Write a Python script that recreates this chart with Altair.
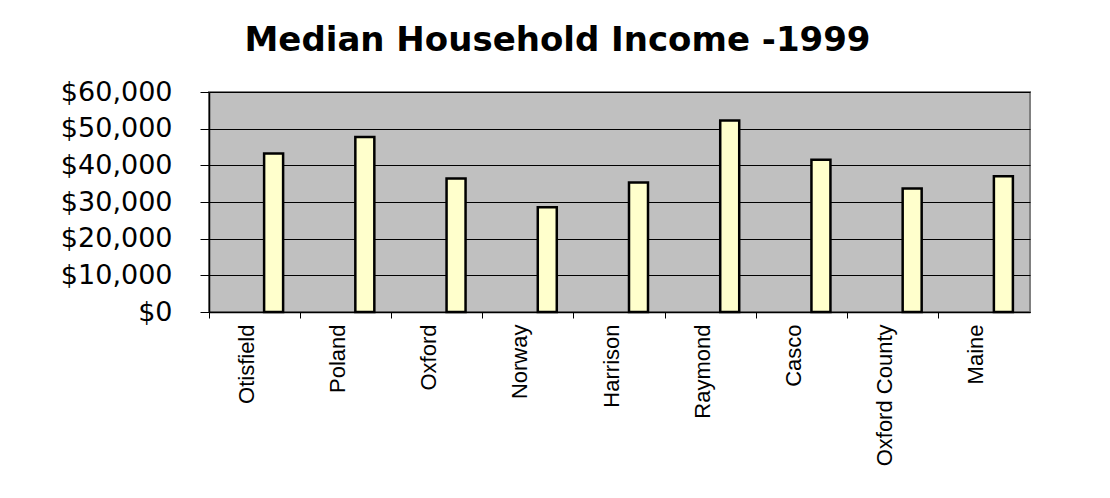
import altair as alt
import pandas as pd

places = ["Otisfield", "Poland", "Oxford", "Norway", "Harrison",
          "Raymond", "Casco", "Oxford County", "Maine"]
income = [43200, 47700, 36400, 28600, 35300, 52200, 41500, 33700, 37000]
y_ticks = [0, 10000, 20000, 30000, 40000, 50000, 60000]
title_text = "Median Household Income -1999"

df = pd.DataFrame({"place": places, "income": income})

bars = alt.Chart(df).mark_bar(
    width=19, xOffset=19, fill="#FFFFCC", stroke="#000000", strokeWidth=2.5
).encode(
    x=alt.X("place:N", sort=places, title=None,
            scale=alt.Scale(paddingInner=0, paddingOuter=0),
            axis=alt.Axis(labelAngle=-90, labelAlign="right", labelBaseline="middle",
                          labelFont="Liberation Sans", labelFontSize=22,
                          labelColor="#000000", labelPadding=6, labelOffset=-8,
                          bandPosition=0, tickSize=6, tickColor="#000000",
                          domainColor="#000000", domainWidth=1.5, grid=False,
                          labelLimit=300)),
    y=alt.Y("income:Q", title=None,
            scale=alt.Scale(domain=[0, 60000], nice=False),
            axis=alt.Axis(values=y_ticks, format="$,.0f",
                          labelFont="DejaVu Sans", labelFontSize=27,
                          labelColor="#000000", labelPadding=28,
                          tickSize=9, tickColor="#000000",
                          domainColor="#000000", domainWidth=1.5,
                          grid=True, gridColor="#000000", gridWidth=1)),
)

chart = bars.properties(
    width=821, height=220,
    background="#FFFFFF",
    title=alt.TitleParams(title_text, font="DejaVu Sans", fontSize=34,
                          fontWeight="bold", color="#000000", anchor="middle",
                          baseline="alphabetic", offset=30, dx=-62, dy=37),
    autosize=alt.AutoSizeParams(type="none"),
    padding={"left": 201, "top": 84, "right": 72, "bottom": 178},
).configure_view(
    fill="#C0C0C0", stroke="#808080", strokeWidth=2
)

chart.save("out.html", embed_options={"renderer": "svg", "actions": False})
